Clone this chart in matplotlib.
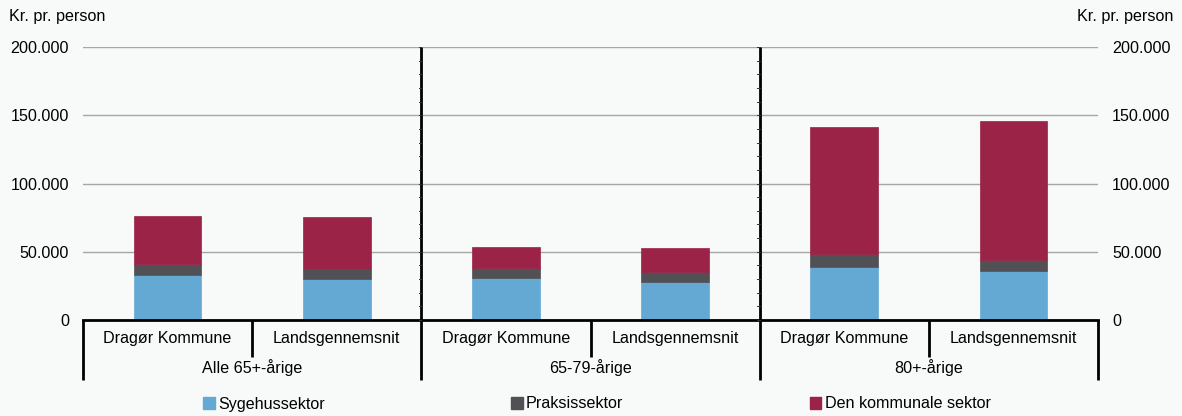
import matplotlib
matplotlib.use("Agg")
import matplotlib.pyplot as plt
import matplotlib.transforms as mtransforms
from matplotlib.ticker import FuncFormatter, FixedLocator
from matplotlib.patches import Patch

plt.rcParams['font.family'] = ['Liberation Sans', 'DejaVu Sans']

groups = ["Alle 65+-årige", "65-79-årige", "80+-årige"]
categories = ["Dragør Kommune", "Landsgennemsnit"] * 3
series_names = ["Sygehussektor", "Praksissektor", "Den kommunale sektor"]
sygehus = [32700, 30000, 30800, 27800, 39000, 35900]
praksis = [8100, 7100, 7300, 7400, 9400, 7800]
kommunal = [35600, 38100, 15400, 17500, 92800, 101900]
colors = ["#64A9D4", "#505055", "#9A2347"]
yticks = [0, 50000, 100000, 150000, 200000]

FS = 11.6
bg = "#F8F9F9"
fig = plt.figure(figsize=(11.82, 4.16), dpi=100, facecolor=bg)
ax = fig.add_axes([83/1182, 1-320/416, (1098-83)/1182, (320-47)/416], facecolor=bg)

x = list(range(len(categories)))
bottom = [0]*len(x)
for vals, col, name in zip([sygehus, praksis, kommunal], colors, series_names):
    ax.bar(x, vals, width=0.4, bottom=bottom, color=col, label=name, zorder=3,
           edgecolor=col, linewidth=0.5)
    bottom = [b+v for b, v in zip(bottom, vals)]

ax.set_xlim(-0.5, len(x)-0.5)
ax.set_ylim(0, 200000)
ax.yaxis.set_major_locator(FixedLocator(yticks))
fmt = FuncFormatter(lambda v, p: f"{int(v):,}".replace(",", "."))
ax.yaxis.set_major_formatter(fmt)
ax.tick_params(axis='y', length=0, labelsize=FS, pad=10, labelright=True, labelleft=True)
ax.tick_params(axis='x', bottom=False, labelbottom=False)
ax.grid(axis='y', color='#A6A6A6', linewidth=1, zorder=1)
for s in ['top', 'left', 'right']:
    ax.spines[s].set_visible(False)
ax.spines['bottom'].set_linewidth(2)
ax.spines['bottom'].set_zorder(5)

trans = mtransforms.blended_transform_factory(ax.transData, ax.transAxes)
h = 273.0
short_y = -37/h
long_y = -60/h
n = len(x)
for i in range(n+1):
    xb = i - 0.5
    if i % 2 == 0:
        top = 1.0 if 0 < i < n else 0
        ax.plot([xb, xb], [top, long_y], transform=trans, color='black', lw=2,
                clip_on=False, zorder=6, solid_capstyle='butt')
        if 0 < i < n:
            for v in range(0, 200001, 10000):
                ax.plot([xb-0.015, xb], [v/200000]*2, transform=trans, color='#333333',
                        lw=0.7, clip_on=False, zorder=6)
    else:
        ax.plot([xb, xb], [0, short_y], transform=trans, color='black', lw=2,
                clip_on=False, zorder=6, solid_capstyle='butt')

for i, c in enumerate(categories):
    ax.text(i, -19/h, c, transform=trans, ha='center', va='center', fontsize=FS)
for g, name in enumerate(groups):
    ax.text(2*g+0.5, -48/h, name, transform=trans, ha='center', va='center', fontsize=FS)

fig.text(9/1182, 1-17/416, "Kr. pr. person", ha='left', va='center', fontsize=FS)
fig.text(1173/1182, 1-17/416, "Kr. pr. person", ha='right', va='center', fontsize=FS)

handles = [Patch(facecolor=c, edgecolor=c) for c in colors]
fig.legend(handles, series_names, loc='center', bbox_to_anchor=(597/1182, 1-404/416),
           ncol=3, frameon=False, fontsize=FS, handlelength=0.7, handleheight=0.7,
           handletextpad=0.2, columnspacing=11.6, borderaxespad=0, borderpad=0)

fig.savefig("out.png", dpi=100, facecolor=bg)
